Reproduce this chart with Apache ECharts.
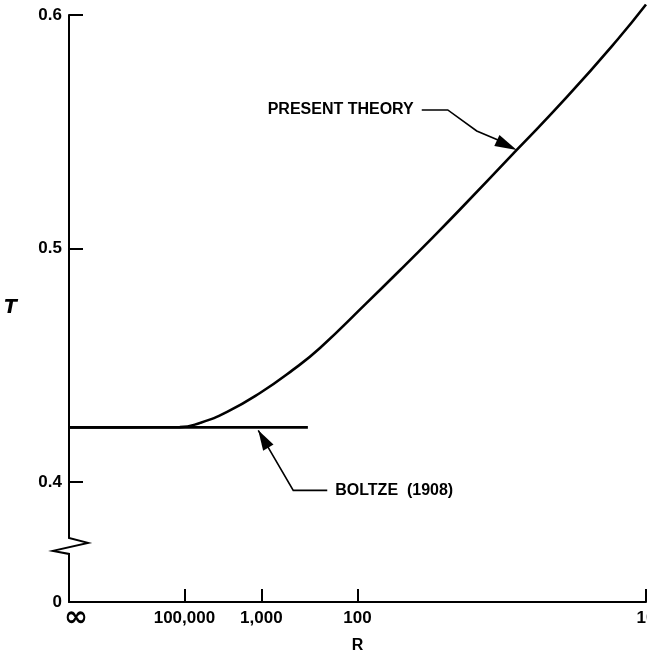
<!DOCTYPE html>
<html><head><meta charset="utf-8">
<script src="https://cdn.jsdelivr.net/npm/echarts@6/dist/echarts.min.js"></script>
<style>html,body{margin:0;padding:0;background:#fff}#c{width:647px;height:651px}</style>
</head><body><div id="c"></div>
<script>
// x axis coordinate s = 1/log10(R)  (R = infinity -> 0)
const xTickValues = [0, 0.2, 1/3, 0.5, 1];
const xTickLabels = ['∞', '100,000', '1,000', '100', '10'];
// the y axis is broken between 0 and 0.4; its bottom end stands for 0
const yAxisBottom = 0.3486;
const yBreakAt = 0.3722;
const yTickValues = [yAxisBottom, 0.4, 0.5, 0.6];
const yTickLabels = ['0', '0.4', '0.5', '0.6'];

const presentX = [0, 0.10, 0.192, 0.227, 0.274, 0.331, 0.388, 0.435, 0.516, 0.574, 0.631, 0.678, 0.776, 0.863, 0.950, 1.0];
const presentY = [0.4234, 0.4234, 0.4235, 0.4253, 0.4300, 0.4381, 0.4480, 0.4574, 0.4767, 0.4908, 0.5049, 0.5168, 0.5422, 0.5649, 0.5893, 0.6045];
const boltzeX = [0, 0.414];
const boltzeY = [0.4234, 0.4234];

const presentAnchor = [0.776, 0.5422];
const boltzeAnchor = [0.328, 0.4234];

const FONT = 'Liberation Sans';
const chart = echarts.init(document.getElementById('c'), null, {renderer: 'canvas'});

const option = {
  animation: false,
  backgroundColor: '#fff',
  grid: {left: 69, right: 1, top: 15, bottom: 49, outerBoundsMode: 'none', containLabel: false},
  xAxis: {
    type: 'value', min: 0, max: 1,
    name: 'R', nameLocation: 'middle', nameGap: 35,
    nameTextStyle: {fontFamily: FONT, fontWeight: 'bold', fontSize: 16, color: '#000'},
    axisLine: {show: true, lineStyle: {color: '#000', width: 2}},
    axisTick: {show: true, inside: true, length: 13, lineStyle: {color: '#000', width: 2},
      customValues: xTickValues.filter(v => v > 0)},
    axisLabel: {show: true, margin: 8, color: '#000', fontFamily: FONT, fontWeight: 'bold', fontSize: 17,
      customValues: xTickValues,
      formatter: function (v) {
        let i = xTickValues.findIndex(t => Math.abs(t - v) < 1e-6);
        if (i < 0) return '';
        return i === 0 ? '{inf|' + xTickLabels[0] + '}' : xTickLabels[i];
      },
      rich: {inf: {fontSize: 29, lineHeight: 17, fontFamily: 'DejaVu Sans', fontWeight: 'bold', padding: [0, 0, 0, 14], color: '#000'}}},
    splitLine: {show: false}
  },
  yAxis: {
    type: 'value', min: yAxisBottom, max: 0.6,
    name: 'T', nameLocation: 'middle', nameGap: 52, nameRotate: 0,
    nameTextStyle: {fontFamily: 'DejaVu Sans', fontWeight: 'bold', fontStyle: 'italic', fontSize: 19, color: '#000', padding: [22, 0, 0, 0]},
    axisLine: {show: true, lineStyle: {color: '#000', width: 2}},
    axisTick: {show: true, inside: true, length: 14, lineStyle: {color: '#000', width: 2},
      customValues: yTickValues.slice(1)},
    axisLabel: {show: true, margin: 7, color: '#000', fontFamily: FONT, fontWeight: 'bold', fontSize: 17,
      customValues: yTickValues,
      formatter: function (v) {
        let i = yTickValues.findIndex(t => Math.abs(t - v) < 1e-6);
        return i < 0 ? '' : yTickLabels[i];
      }},
    splitLine: {show: false}
  },
  series: [
    {name: 'Present theory', type: 'line', smooth: 0.5, symbol: 'none', clip: false,
      lineStyle: {color: '#000', width: 2.6},
      data: presentX.map((x, i) => [x, presentY[i]])},
    {name: 'Boltze (1908)', type: 'line', symbol: 'none', clip: false,
      lineStyle: {color: '#000', width: 2.6},
      data: boltzeX.map((x, i) => [x, boltzeY[i]])}
  ]
};
chart.setOption(option);

function px(p) { return chart.convertToPixel({gridIndex: 0}, p); }
const pa = px(presentAnchor);
const ba = px(boltzeAnchor);
const ax = chart.convertToPixel({xAxisIndex: 0}, 0);
const cy = chart.convertToPixel({yAxisIndex: 0}, yBreakAt);

function arrowHead(tip, from, len, half) {
  const dx = tip[0] - from[0], dy = tip[1] - from[1];
  const d = Math.hypot(dx, dy), ux = dx / d, uy = dy / d;
  const bx = tip[0] - ux * len, by = tip[1] - uy * len;
  return [[tip[0], tip[1]], [bx - uy * half, by + ux * half], [bx + uy * half, by - ux * half]];
}

const pTip = [pa[0], pa[1]];
const pKnee = [pa[0] - 69, pa[1] - 40];
const pStart = [pa[0] - 95, pa[1] - 40];
const pMid = [pa[0] - 40, pa[1] - 19];
const bTip = [ba[0], ba[1] + 3];
const bKnee = [ba[0] + 35, ba[1] + 63];
const bEnd = [ba[0] + 69, ba[1] + 63];

chart.setOption({
  graphic: [
    {type: 'rect', z: 100, shape: {x: ax - 3, y: cy - 10, width: 6, height: 18}, style: {fill: '#fff'}},
    {type: 'polyline', z: 101, shape: {points: [[ax, cy - 12], [ax, cy - 9], [ax + 19, cy - 4], [ax - 16, cy + 4], [ax, cy + 7], [ax, cy + 10]]},
      style: {stroke: '#000', lineWidth: 2, fill: null}},
    {type: 'polyline', z: 100, shape: {points: [pStart, pKnee, pMid, [pa[0] - 14, pa[1] - 8]]},
      style: {stroke: '#000', lineWidth: 1.6, fill: null}},
    {type: 'polygon', z: 100, shape: {points: arrowHead(pTip, pMid, 22, 6)}, style: {fill: '#000'}},
    {type: 'text', z: 100, style: {x: pStart[0] - 8, y: pStart[1], text: 'PRESENT THEORY', align: 'right', verticalAlign: 'middle',
      font: 'bold 16px "Liberation Sans"', fill: '#000'}},
    {type: 'polyline', z: 100, shape: {points: [bTip, bKnee, bEnd]}, style: {stroke: '#000', lineWidth: 1.6, fill: null}},
    {type: 'polygon', z: 100, shape: {points: arrowHead(bTip, bKnee, 20, 6)}, style: {fill: '#000'}},
    {type: 'text', z: 100, style: {x: bEnd[0] + 8, y: bEnd[1], text: 'BOLTZE  (1908)', align: 'left', verticalAlign: 'middle',
      font: 'bold 16px "Liberation Sans"', fill: '#000'}}
  ]
});
</script>
</body></html>
